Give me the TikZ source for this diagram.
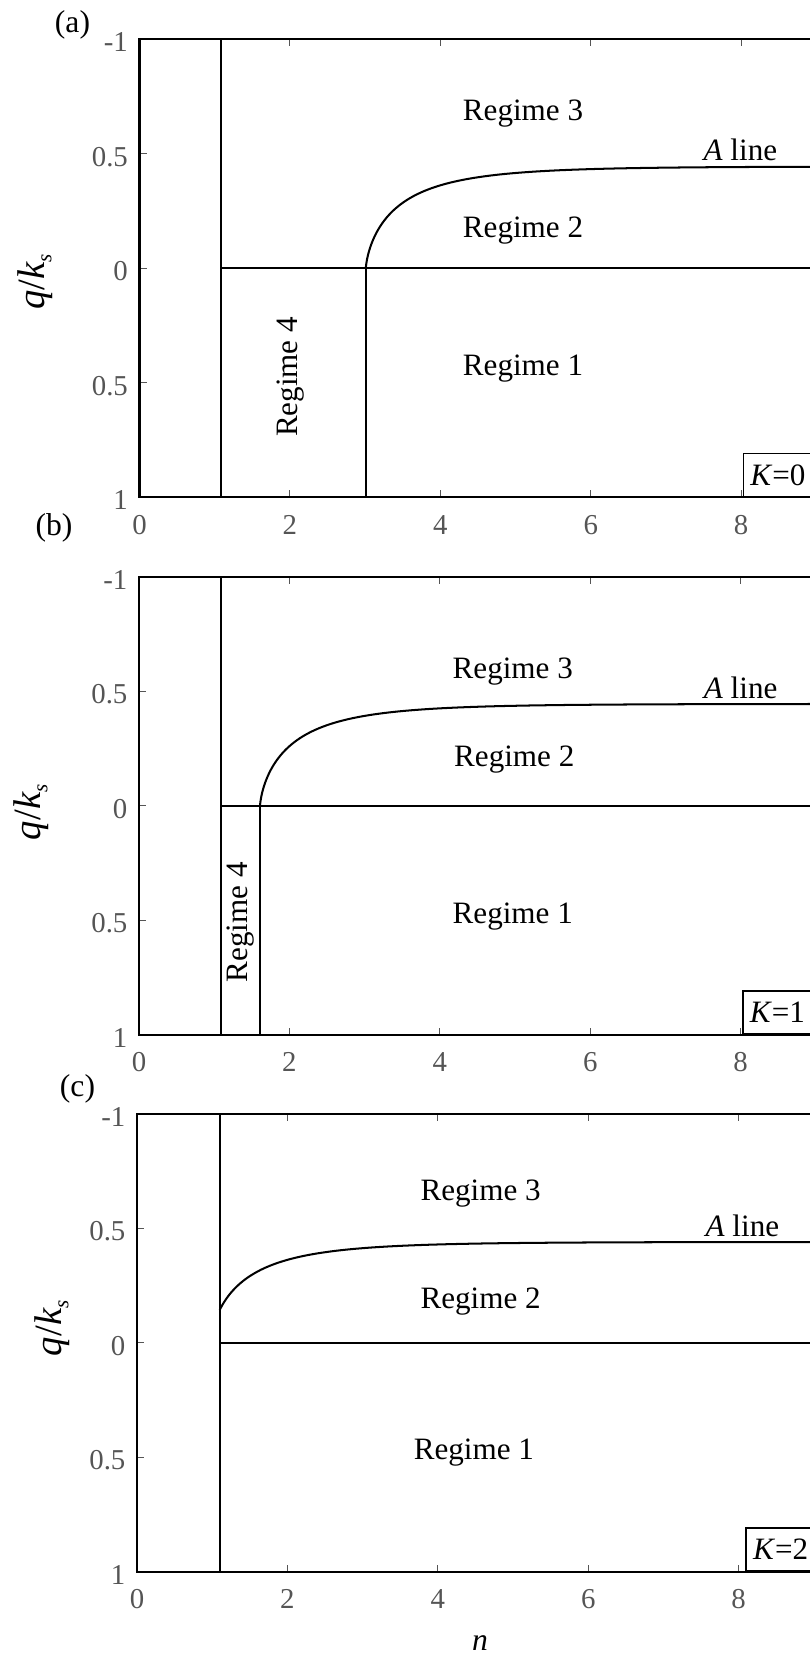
\documentclass[tikz,border=0pt]{standalone}
\usepackage{fontspec}
\setmainfont{Liberation Serif}
\definecolor{tickgray}{RGB}{85,85,85}

\tikzset{
  frameline/.style={line width=1.15pt},
  aline/.style={line width=1.15pt},
  tickmark/.style={tickgray,line width=0.6pt},
  regime/.style={font=\fontsize{17.7}{20}\selectfont,inner sep=0pt},
  ticklabel/.style={font=\fontsize{16.4}{18}\selectfont,text=tickgray,inner sep=0pt},
  axlabel/.style={font=\fontsize{18}{20}\selectfont,inner sep=0pt},
  qlabel/.style={font=\fontsize{22}{24}\selectfont,inner sep=0pt,rotate=90},
  kbox/.style={draw,line width=0.8pt,font=\fontsize{17.7}{20}\selectfont,anchor=south west,minimum height=0.86cm,inner xsep=0.14cm,inner ysep=0pt},
}

\begin{document}
\begin{tikzpicture}[x=1cm,y=1cm]
\path[use as bounding box,clip] (0,0) rectangle (16.2,-33.12);

% panel (a), K=0
\begin{scope}[shift={(2.79cm,-5.368cm)},x=1.504cm,y=4.58cm]
\foreach \n in {2,4,6,8} {
  \draw[tickmark] (\n,1) -- ++(0,-0.14cm);
  \draw[tickmark] (\n,-1) -- ++(0,0.14cm);
  \node[ticklabel] (xa\n) at (\n,-1.12) {\n};
}
\node[ticklabel] (xa0) at (0,-1.12) {0};
\foreach \v/\t [count=\i] in {1/-1,0.5/0.5,0/0,-0.5/0.5,-1/1} {
  \draw[tickmark] (0,\v) -- ++(0.14cm,0);
  \node[ticklabel,anchor=east] (ya\i) at (-0.15,\v-0.013) {\t};
}
\draw[frameline] (0,-1) rectangle (9,1);
\draw[frameline] (1.09,-1) -- (1.09,1);
\draw[frameline] (1.09,0) -- (9,0);
\draw[frameline] (3.01,0) -- (3.01,-1);
\draw[aline] (3.01,0) -- plot[domain=0.02:1.84,samples=90] ({3.01+\x^3},{0.445*(1-exp(-1.7*\x^2.1))});
\node[regime,anchor=base] (regime3a) at (5.10,0.645) {Regime 3};
\node[regime,anchor=base] (alinea) at (7.99,0.473) {\textit{A} line};
\node[regime,anchor=base] (regime2a) at (5.10,0.137) {Regime 2};
\node[regime,anchor=base] (regime1a) at (5.10,-0.466) {Regime 1};
\node[regime,rotate=90] (regime4a) at (2.01,-0.474) {Regime 4};
\node[kbox] (ka) at (8.02,-1) {\textit{K}=0};
\end{scope}

% panel (b), K=1
\begin{scope}[shift={(2.78cm,-16.116cm)},x=1.504cm,y=4.58cm]
\foreach \n in {2,4,6,8} {
  \draw[tickmark] (\n,1) -- ++(0,-0.14cm);
  \draw[tickmark] (\n,-1) -- ++(0,0.14cm);
  \node[ticklabel] (xb\n) at (\n,-1.12) {\n};
}
\node[ticklabel] (xb0) at (0,-1.12) {0};
\foreach \v/\t [count=\i] in {1/-1,0.5/0.5,0/0,-0.5/0.5,-1/1} {
  \draw[tickmark] (0,\v) -- ++(0.14cm,0);
  \node[ticklabel,anchor=east] (yb\i) at (-0.15,\v-0.013) {\t};
}
\draw[frameline] (0,-1) rectangle (9,1);
\draw[frameline] (1.09,-1) -- (1.09,1);
\draw[frameline] (1.09,0) -- (9,0);
\draw[frameline] (1.61,0) -- (1.61,-1);
\draw[aline] (1.61,0) -- plot[domain=0.02:1.97,samples=90] ({1.61+\x^3},{0.445*(1-exp(-1.7*\x^2.1))});
\node[regime,anchor=base] (regime3b) at (4.97,0.558) {Regime 3};
\node[regime,anchor=base] (alineb) at (8.0,0.469) {\textit{A} line};
\node[regime,anchor=base] (regime2b) at (4.99,0.171) {Regime 2};
\node[regime,anchor=base] (regime1b) at (4.97,-0.516) {Regime 1};
\node[regime,rotate=90] (regime4b) at (1.345,-0.508) {Regime 4};
\node[kbox] (kb) at (8.02,-1) {\textit{K}=1};
\end{scope}

% panel (c), K=2
\begin{scope}[shift={(2.74cm,-26.854cm)},x=1.504cm,y=4.58cm]
\foreach \n in {2,4,6,8} {
  \draw[tickmark] (\n,1) -- ++(0,-0.14cm);
  \draw[tickmark] (\n,-1) -- ++(0,0.14cm);
  \node[ticklabel] (xc\n) at (\n,-1.12) {\n};
}
\node[ticklabel] (xc0) at (0,-1.12) {0};
\foreach \v/\t [count=\i] in {1/-1,0.5/0.5,0/0,-0.5/0.5,-1/1} {
  \draw[tickmark] (0,\v) -- ++(0.14cm,0);
  \node[ticklabel,anchor=east] (yc\i) at (-0.15,\v-0.013) {\t};
}
\draw[frameline] (0,-1) rectangle (9,1);
\draw[frameline] (1.1,-1) -- (1.1,1);
\draw[frameline] (1.1,0) -- (9,0);
\draw[aline] plot[domain=0.4987:2.02,samples=90] ({0.976+\x^3},{0.44*(1-exp(-1.7*\x^2.1))});
\node[regime,anchor=base] (regime3c) at (4.57,0.62) {Regime 3};
\node[regime,anchor=base] (alinec) at (8.05,0.465) {\textit{A} line};
\node[regime,anchor=base] (regime2c) at (4.57,0.15) {Regime 2};
\node[regime,anchor=base] (regime1c) at (4.48,-0.512) {Regime 1};
\node[kbox] (kc) at (8.09,-1) {\textit{K}=2};
\end{scope}

% outer labels
\node[axlabel] (pa) at (1.45,-0.5) {(a)};
\node[axlabel] (pb) at (1.08,-10.56) {(b)};
\node[axlabel] (pc) at (1.55,-21.78) {(c)};
\node[qlabel] (qa) at (0.7,-5.64) {\textit{q}/\textit{k}\raisebox{-0.4ex}{\fontsize{12}{12}\selectfont\textit{s}}};
\node[qlabel] (qb) at (0.62,-16.24) {\textit{q}/\textit{k}\raisebox{-0.4ex}{\fontsize{12}{12}\selectfont\textit{s}}};
\node[qlabel] (qc) at (1.04,-26.56) {\textit{q}/\textit{k}\raisebox{-0.4ex}{\fontsize{12}{12}\selectfont\textit{s}}};
\node[axlabel] (nlab) at (9.6,-32.86) {\textit{n}};
\end{tikzpicture}
\end{document}
